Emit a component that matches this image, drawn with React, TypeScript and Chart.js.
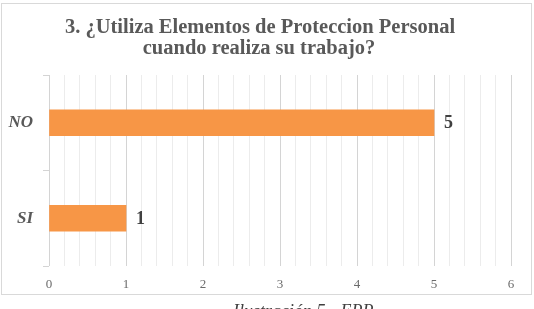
import React, { useEffect, useRef } from "react";
import { Chart, registerables } from "chart.js";

Chart.register(...registerables);

const titleLines = ["3. ¿Utiliza Elementos de Proteccion Personal", "cuando realiza su trabajo?"];
const categories = ["NO", "SI"];
const answers = [5, 1];
const axisMin = 0;
const axisMax = 6;
const caption = "Ilustración 5 - EPP";

const BAR_COLOR = "#F79646";
const TEXT_GRAY = "#595959";

const isWhole = (v: number) => Math.abs(v - Math.round(v)) < 1e-6;

const decorations = {
  id: "decorations",
  beforeDraw(chart: any) {
    const { ctx } = chart;
    ctx.save();
    ctx.fillStyle = "#ffffff";
    ctx.fillRect(0, 0, chart.width, chart.height);
    ctx.strokeStyle = "#d9d9d9";
    ctx.lineWidth = 1;
    ctx.strokeRect(1.5, 3.5, 530, 291);
    ctx.restore();
  },
  afterDraw(chart: any) {
    const { ctx } = chart;
    ctx.save();
    // title
    ctx.fillStyle = TEXT_GRAY;
    ctx.font = "bold 20.5px 'Liberation Serif', 'Times New Roman', serif";
    ctx.textAlign = "center";
    ctx.textBaseline = "alphabetic";
    ctx.fillText(titleLines[0], 260, 33);
    ctx.fillText(titleLines[1], 259, 54);

    // value labels at the end of each bar
    const meta = chart.getDatasetMeta(0);
    ctx.font = "bold 18px 'Liberation Serif', serif";
    ctx.fillStyle = "#404040";
    ctx.textAlign = "left";
    ctx.textBaseline = "middle";
    meta.data.forEach((bar: any, i: number) => {
      ctx.fillText(String(answers[i]), bar.x + 10, bar.y + 1);
    });

    // figure caption under the frame
    ctx.font = "italic 18px 'Liberation Serif', serif";
    ctx.fillStyle = "#404040";
    ctx.textAlign = "left";
    ctx.textBaseline = "top";
    ctx.fillText(caption, 233, 303);
    ctx.restore();
  },
};

export default function App() {
  const canvasRef = useRef<HTMLCanvasElement | null>(null);

  useEffect(() => {
    if (!canvasRef.current) return;
    const chart = new Chart(canvasRef.current, {
      type: "bar",
      data: {
        labels: categories,
        datasets: [
          {
            data: answers,
            backgroundColor: BAR_COLOR,
            borderWidth: 0,
            barThickness: 26,
          },
        ],
      },
      options: {
        indexAxis: "y",
        responsive: false,
        animation: false,
        layout: { padding: { top: 75, right: 23, bottom: 15, left: 0 } },
        plugins: {
          legend: { display: false },
          title: { display: false },
          tooltip: { enabled: false },
        },
        scales: {
          x: {
            min: axisMin,
            max: axisMax,
            afterFit(scale: any) {
              scale.height = 28;
            },
            border: { display: false },
            grid: {
              color: (c: any) => (c.tick && isWhole(c.tick.value) ? "#d4d4d4" : "#ececec"),
              tickLength: 0,
              drawTicks: false,
            },
            ticks: {
              stepSize: 0.2,
              autoSkip: false,
              maxRotation: 0,
              padding: 11,
              color: "#6b6b6b",
              font: { family: "'Liberation Serif', serif", size: 13 },
              callback: (v: any) => (isWhole(Number(v)) ? String(Math.round(Number(v))) : ""),
            },
          },
          y: {
            afterFit(scale: any) {
              scale.width = 49;
            },
            border: { display: false },
            grid: {
              offset: true,
              drawOnChartArea: false,
              tickLength: 6,
              color: "#d4d4d4",
            },
            ticks: {
              padding: 10,
              color: TEXT_GRAY,
              font: { family: "'Liberation Serif', serif", size: 17, style: "italic", weight: "bold" },
            },
          },
        },
      },
      plugins: [decorations],
    });
    return () => chart.destroy();
  }, []);

  return (
    <div style={{ position: "fixed", left: 0, top: 0, width: 534, height: 309, background: "#fff" }}>
      <canvas ref={canvasRef} width={534} height={309} style={{ display: "block" }} />
    </div>
  );
}
